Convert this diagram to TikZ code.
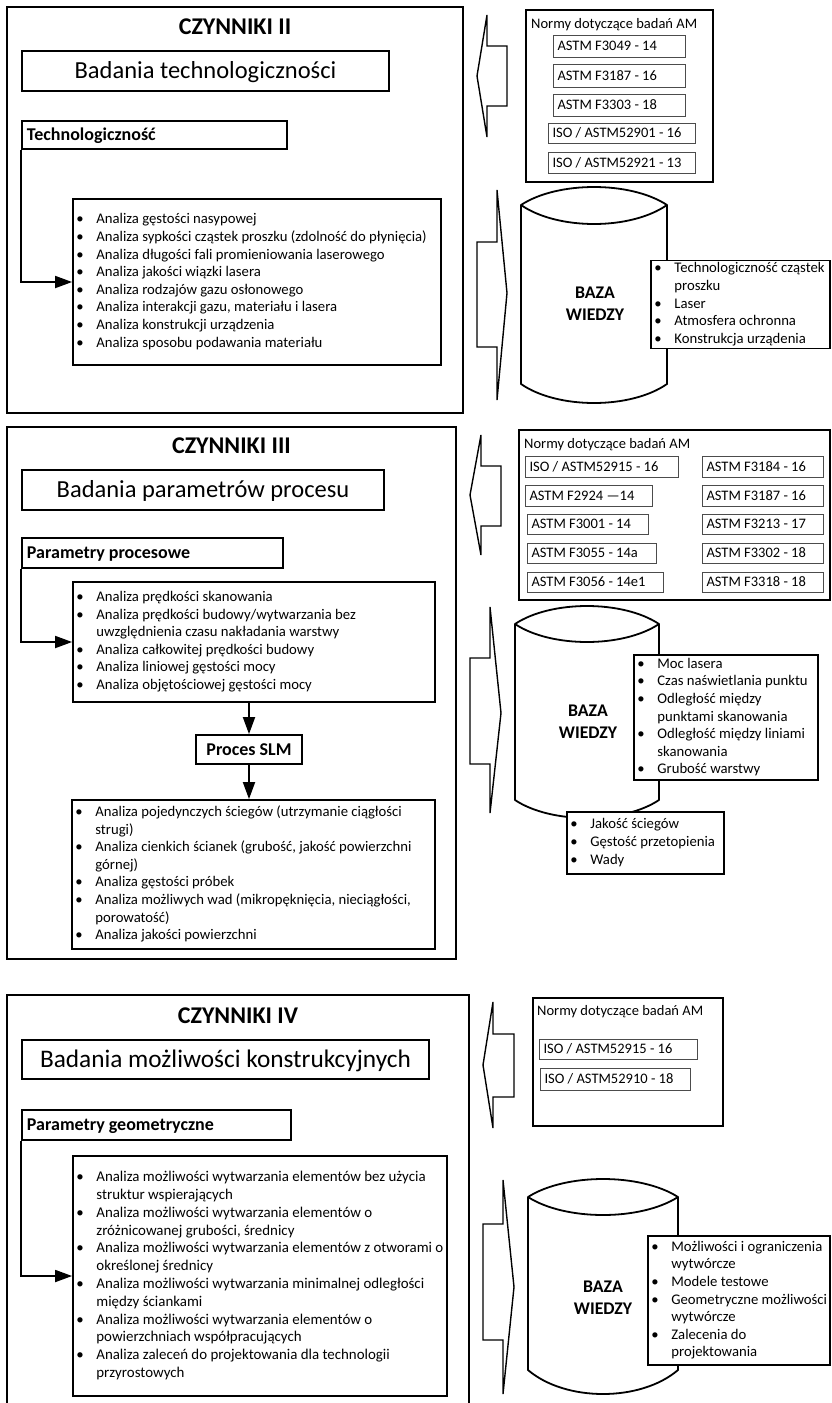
\documentclass[tikz,border=0pt]{standalone}
\usepackage{fontspec}
\setmainfont{Carlito}
\usetikzlibrary{arrows.meta}

% bullet cell, continuation indent, left-aligned fixed-width line, stacked lines
\newcommand\bl{\makebox[20pt][l]{\textbullet}}
\newcommand\cl{\hspace*{20pt}}
\newcommand\lft[2]{\makebox[#1][l]{#2}}
\newcommand\tb[1]{\begin{tabular}{@{}l@{}}#1\end{tabular}}

% block arrow: tip x, tip y, head back x, head top y, head bottom y, shaft end x, shaft top y, shaft bottom y
\newcommand\blockarrow[8]{%
  \draw[barrow] (#1,#2) -- (#3,#4) -- (#3,#7) -- (#6,#7) -- (#6,#8) -- (#3,#8) -- (#3,#5) -- cycle;}

% database drum: x left, x right, cap peak, rim, cap lower arc, side bottom, bottom arc
\newcommand\drawcyl[7]{%
  \draw[cyl] (#1,#4) .. controls ({#1+(#2-#1)/4},{#4-4/3*(#4-#3)}) and ({#2-(#2-#1)/4},{#4-4/3*(#4-#3)}) .. (#2,#4)
     .. controls ({#2-(#2-#1)/4},{#4+4/3*(#5-#4)}) and ({#1+(#2-#1)/4},{#4+4/3*(#5-#4)}) .. (#1,#4) -- cycle;
  \draw[cyl] (#1,#4) -- (#1,#6) .. controls ({#1+(#2-#1)/4},{#6+4/3*(#7-#6)}) and ({#2-(#2-#1)/4},{#6+4/3*(#7-#6)}) .. (#2,#6) -- (#2,#4);}

\begin{document}
\begin{tikzpicture}[x=1pt,y=-1pt,
  frame/.style={draw, line width=1.8pt, inner sep=0pt},
  czyn/.style={inner sep=0pt, font=\bfseries\fontsize{24}{29}\selectfont, text height=15.2pt, text depth=0pt},
  hbox/.style={draw, line width=1.8pt, inner sep=0pt, font=\fontsize{24.5}{30}\selectfont, text height=15.5pt, text depth=0pt},
  headbox/.style={draw, line width=1.8pt, fill=white, inner xsep=5pt, inner ysep=0pt, font=\bfseries\fontsize{18}{22}\selectfont, text height=11.4pt, text depth=0pt},
  listbox/.style={draw, line width=1.8pt, fill=white, inner xsep=3.4pt, inner ysep=0pt, font=\fontsize{14.7}{17.6}\selectfont},
  normt/.style={inner sep=0pt, anchor=west, font=\fontsize{14.5}{17.6}\selectfont, text height=9.2pt, text depth=0pt},
  sbox/.style={draw=black!70, line width=0.9pt, inner xsep=4.5pt, inner ysep=0pt, font=\fontsize{14.5}{17.6}\selectfont, text height=9.2pt, text depth=0pt},
  baza/.style={inner sep=0pt, align=center, font=\bfseries\fontsize{17.8}{21.7}\selectfont},
  conn/.style={line width=1.8pt, -{Triangle[length=17pt,width=12pt]}},
  barrow/.style={draw, line width=1.4pt, line join=miter, fill=white},
  cyl/.style={draw, line width=1.8pt, line join=round},
]
\useasboundingbox (0,0) rectangle (831,1403);
\clip (0,0) rectangle (831,1403);
\fill[white] (0,0) rectangle (831,1403);

%% ---------------- CZYNNIKI II ----------------
\node[frame, minimum width=456pt, minimum height=406pt] (sec2) at (235,210) {};
\node[czyn] (cz2) at (235,26.5) {CZYNNIKI II};
\node[hbox, minimum width=367pt, minimum height=40pt] (bt2) at (205.5,71) {Badania technologiczności};
\node[headbox, minimum width=265pt, minimum height=28pt] (hd2) at (154.5,135) {\lft{255pt}{Technologiczność}};
\node[listbox, minimum width=368pt, minimum height=166pt] (ls2) at (257,282) {\lft{361.2pt}{\tb{%
\bl Analiza gęstości nasypowej\\
\bl Analiza sypkości cząstek proszku (zdolność do płynięcia)\\
\bl Analiza długości fali promieniowania laserowego\\
\bl Analiza jakości wiązki lasera\\
\bl Analiza rodzajów gazu osłonowego\\
\bl Analiza interakcji gazu, materiału i lasera\\
\bl Analiza konstrukcji urządzenia\\
\bl Analiza sposobu podawania materiału}}};
\draw[conn] (hd2.south west) |- (ls2.west);

\node[frame, minimum width=187pt, minimum height=172pt] (nm2) at (619.5,96) {};
\node[normt] (nm2t) at (531,24) {Normy dotyczące badań AM};
\node[sbox, minimum width=132pt, minimum height=22pt] (s2a) at (619,46) {\lft{123pt}{ASTM F3049 - 14}};
\node[sbox, minimum width=132pt, minimum height=23pt] (s2b) at (619,75.5) {\lft{123pt}{ASTM F3187 - 16}};
\node[sbox, minimum width=132pt, minimum height=22pt] (s2c) at (619,105) {\lft{123pt}{ASTM F3303 - 18}};
\node[sbox, minimum width=147pt, minimum height=20pt] (s2d) at (621.5,133) {\lft{138pt}{ISO / ASTM52901 - 16}};
\node[sbox, minimum width=147pt, minimum height=21pt] (s2e) at (621.5,162.5) {\lft{138pt}{ISO / ASTM52921 - 13}};

\blockarrow{477}{76}{487}{15}{137}{507}{46}{106}
\blockarrow{507}{293}{497}{190}{400}{477}{242}{347}
\drawcyl{521}{667}{187}{205}{224}{384}{403}
\node[baza] (bz2) at (595,304) {BAZA\\WIEDZY};
\node[listbox, minimum width=179pt, minimum height=87pt] (kb2) at (740.5,304.5) {\lft{172.2pt}{\tb{%
\bl Technologiczność cząstek\\
\cl proszku\\
\bl Laser\\
\bl Atmosfera ochronna\\
\bl Konstrukcja urządenia}}};

%% ---------------- CZYNNIKI III ----------------
\node[frame, minimum width=449pt, minimum height=532pt] (sec3) at (231.5,693) {};
\node[czyn] (cz3) at (231.5,445.5) {CZYNNIKI III};
\node[hbox, minimum width=362pt, minimum height=40pt] (bt3) at (203,490) {Badania parametrów procesu};
\node[headbox, minimum width=261pt, minimum height=30pt] (hd3) at (152.5,553) {\lft{251pt}{Parametry procesowe}};
\node[listbox, minimum width=362pt, minimum height=120pt] (ls3a) at (254,642) {\lft{355.2pt}{\tb{%
\bl Analiza prędkości skanowania\\
\bl Analiza prędkości budowy/wytwarzania bez\\
\cl uwzględnienia czasu nakładania warstwy\\
\bl Analiza całkowitej prędkości budowy\\
\bl Analiza liniowej gęstości mocy\\
\bl Analiza objętościowej gęstości mocy}}};
\node[headbox, minimum width=106pt, minimum height=29pt] (slm) at (249,749.5) {Proces SLM};
\node[listbox, minimum width=363pt, minimum height=149pt] (ls3b) at (253.5,874.5) {\lft{356.2pt}{\tb{%
\bl Analiza pojedynczych ściegów (utrzymanie ciągłości\\
\cl strugi)\\
\bl Analiza cienkich ścianek (grubość, jakość powierzchni\\
\cl górnej)\\
\bl Analiza gęstości próbek\\
\bl Analiza możliwych wad (mikropęknięcia, nieciągłości,\\
\cl porowatość)\\
\bl Analiza jakości powierzchni}}};
\draw[conn] (hd3.south west) |- (ls3a.west);
\draw[conn] (slm.north |- ls3a.south) -- (slm.north);
\draw[conn] (slm.south) -- (slm.south |- ls3b.north);

\node[frame, minimum width=311pt, minimum height=170pt] (nm3) at (674.5,515) {};
\node[normt] (nm3t) at (524,444) {Normy dotyczące badań AM};
\node[sbox, minimum width=153pt, minimum height=21pt] (s3a) at (601.5,466.5) {\lft{144pt}{ISO / ASTM52915 - 16}};
\node[sbox, minimum width=127pt, minimum height=21pt] (s3b) at (588.5,495.5) {\lft{118pt}{ASTM F2924 —14}};
\node[sbox, minimum width=121pt, minimum height=20pt] (s3c) at (587.5,524) {\lft{112pt}{ASTM F3001 - 14}};
\node[sbox, minimum width=129pt, minimum height=20pt] (s3d) at (591.5,553) {\lft{120pt}{ASTM F3055 - 14a}};
\node[sbox, minimum width=136pt, minimum height=20pt] (s3e) at (595,582) {\lft{127pt}{ASTM F3056 - 14e1}};
\node[sbox, minimum width=121pt, minimum height=21pt] (s3f) at (762.5,466.5) {\lft{112pt}{ASTM F3184 - 16}};
\node[sbox, minimum width=121pt, minimum height=21pt] (s3g) at (762.5,495.5) {\lft{112pt}{ASTM F3187 - 16}};
\node[sbox, minimum width=121pt, minimum height=20pt] (s3h) at (762.5,524) {\lft{112pt}{ASTM F3213 - 17}};
\node[sbox, minimum width=121pt, minimum height=20pt] (s3i) at (762.5,553) {\lft{112pt}{ASTM F3302 - 18}};
\node[sbox, minimum width=121pt, minimum height=20pt] (s3j) at (762.5,582) {\lft{112pt}{ASTM F3318 - 18}};

\blockarrow{470}{495}{481}{435}{555}{501}{466}{526}
\blockarrow{501}{713}{490}{607}{813}{470}{658}{764}
\drawcyl{515}{659}{606}{624}{642}{800}{818}
\node[baza] (bz3) at (588,722) {BAZA\\WIEDZY};
\node[listbox, minimum width=184pt, minimum height=125pt] (kb3) at (726,717.5) {\lft{177.2pt}{\tb{%
\bl Moc lasera\\
\bl Czas naświetlania punktu\\
\bl Odległość między\\
\cl punktami skanowania\\
\bl Odległość między liniami\\
\cl skanowania\\
\bl Grubość warstwy}}};
\node[listbox, minimum width=157pt, minimum height=62pt] (kb3b) at (645.5,843) {\lft{150.2pt}{\tb{%
\bl Jakość ściegów\\
\bl Gęstość przetopienia\\
\bl Wady}}};

%% ---------------- CZYNNIKI IV ----------------
\node[frame, minimum width=462pt, minimum height=415pt] (sec4) at (238,1202.5) {};
\node[czyn] (cz4) at (238,1016) {CZYNNIKI IV};
\node[hbox, font=\fontsize{25.3}{30}\selectfont, minimum width=407pt, minimum height=39pt] (bt4) at (225.5,1059.5) {Badania możliwości konstrukcyjnych};
\node[headbox, minimum width=269pt, minimum height=30pt] (hd4) at (156.5,1125) {\lft{259pt}{Parametry geometryczne}};
\node[listbox, font=\fontsize{14.9}{17.8}\selectfont, minimum width=374pt, minimum height=240pt] (ls4) at (260,1276) {\lft{367.2pt}{\tb{%
\bl Analiza możliwości wytwarzania elementów bez użycia\\
\cl struktur wspierających\\
\bl Analiza możliwości wytwarzania elementów o\\
\cl zróżnicowanej grubości, średnicy\\
\bl Analiza możliwości wytwarzania elementów z otworami o\\
\cl określonej średnicy\\
\bl Analiza możliwości wytwarzania minimalnej odległości\\
\cl między ściankami\\
\bl Analiza możliwości wytwarzania elementów o\\
\cl powierzchniach współpracujących\\
\bl Analiza zaleceń do projektowania dla technologii\\
\cl przyrostowych}}};
\draw[conn] (hd4.south west) |- (ls4.west);

\node[frame, minimum width=190pt, minimum height=128pt] (nm4) at (628,1062) {};
\node[normt] (nm4t) at (537,1011) {Normy dotyczące badań AM};
\node[sbox, minimum width=158pt, minimum height=20pt] (s4a) at (618,1049) {\lft{149pt}{ISO / ASTM52915 - 16}};
\node[sbox, minimum width=150pt, minimum height=22pt] (s4b) at (615,1079) {\lft{141pt}{ISO / ASTM52910 - 18}};

\blockarrow{483}{1065}{493}{1002}{1128}{514}{1034}{1097}
\blockarrow{514}{1287}{503}{1180}{1394}{483}{1224}{1340}
\drawcyl{528}{678}{1179}{1197}{1215}{1370}{1394}
\node[baza] (bz4) at (603,1298) {BAZA\\WIEDZY};
\node[listbox, minimum width=182pt, minimum height=129pt] (kb4) at (739,1300.5) {\lft{175.2pt}{\tb{%
\bl Możliwości i ograniczenia\\
\cl wytwórcze\\
\bl Modele testowe\\
\bl Geometryczne możliwości\\
\cl wytwórcze\\
\bl Zalecenia do\\
\cl projektowania}}};
\end{tikzpicture}
\end{document}
